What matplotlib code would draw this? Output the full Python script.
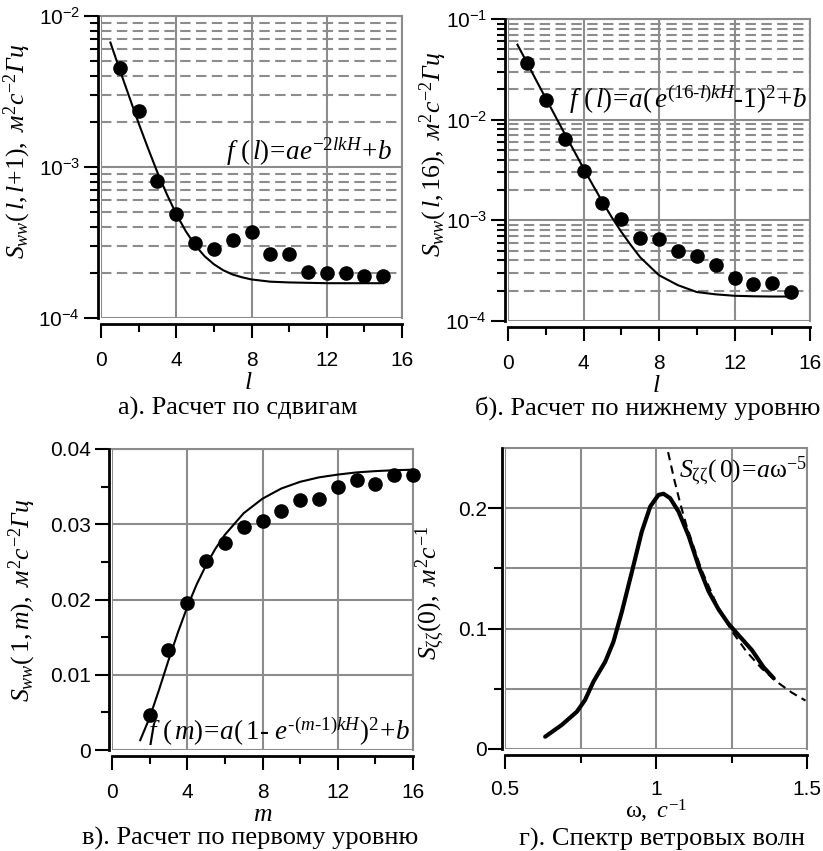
import math
import matplotlib
matplotlib.use("Agg")
import matplotlib.pyplot as plt
from matplotlib.ticker import FixedLocator, NullFormatter, FuncFormatter, LogLocator

plt.rcParams['font.family'] = ['Liberation Sans', 'DejaVu Sans']
plt.rcParams['mathtext.fontset'] = 'custom'
plt.rcParams['mathtext.rm'] = 'Liberation Serif'
plt.rcParams['mathtext.it'] = 'Liberation Serif:italic'
plt.rcParams['mathtext.bf'] = 'Liberation Serif:bold'
plt.rcParams['mathtext.sf'] = 'Liberation Sans'

# ---------------- data ----------------
# panel a
a_l = [1, 2, 3, 4, 5, 6, 7, 8, 9, 10, 11, 12, 13, 14, 15]
a_s = [4.5e-3, 2.36e-3, 8.1e-4, 4.88e-4, 3.12e-4, 2.88e-4, 3.3e-4, 3.69e-4,
       2.64e-4, 2.64e-4, 2.03e-4, 2.0e-4, 2.0e-4, 1.9e-4, 1.9e-4]
a_fit_l = [0.5, 1, 1.5, 2, 2.5, 3, 3.5, 4, 4.5, 5, 5.5, 6, 6.5, 7, 7.5, 8, 9, 10, 11, 12, 13, 14, 15]
a_fit_s = [6.67e-3, 4.39e-3, 2.92e-3, 1.95e-3, 1.33e-3, 9.2e-4, 6.6e-4, 4.88e-4,
           3.77e-4, 3.04e-4, 2.57e-4, 2.27e-4, 2.07e-4, 1.94e-4, 1.86e-4, 1.80e-4,
           1.74e-4, 1.72e-4, 1.71e-4, 1.70e-4, 1.70e-4, 1.70e-4, 1.70e-4]

# panel b
b_l = [1, 2, 3, 4, 5, 6, 7, 8, 9, 10, 11, 12, 13, 14, 15]
b_s = [0.0365, 0.0157, 6.4e-3, 3.09e-3, 1.50e-3, 1.03e-3, 6.65e-4, 6.5e-4,
       5.0e-4, 4.4e-4, 3.58e-4, 2.68e-4, 2.33e-4, 2.37e-4, 1.93e-4]
b_fit_l = [0.5, 1, 1.5, 2, 2.5, 3, 3.5, 4, 4.5, 5, 5.5, 6, 6.5, 7, 7.5, 8, 9, 10, 11, 12, 13, 14, 15]
b_fit_s = [0.0556, 0.037, 0.0245, 0.0163, 0.0109, 7.26e-3, 4.9e-3, 3.28e-3,
           2.23e-3, 1.53e-3, 1.07e-3, 7.7e-4, 5.7e-4, 4.3e-4, 3.5e-4, 2.85e-4,
           2.27e-4, 1.94e-4, 1.84e-4, 1.78e-4, 1.76e-4, 1.75e-4, 1.75e-4]

# panel c
c_m = [2, 3, 4, 5, 6, 7, 8, 9, 10, 11, 12, 13, 14, 15, 16]
c_s = [0.00466, 0.01326, 0.0195, 0.02514, 0.02745, 0.02958, 0.03042, 0.0317,
       0.0332, 0.0333, 0.0350, 0.0359, 0.0354, 0.0365, 0.0366]
c_fit_m = [1.5, 2, 2.5, 3, 3.5, 4, 4.5, 5, 5.5, 6, 7, 8, 9, 10, 11, 12, 13, 14, 15, 16]
c_fit_s = [0.0013, 0.0043, 0.0080, 0.0119, 0.0156, 0.0190, 0.0220, 0.02456, 0.02676,
           0.0286, 0.03147, 0.0334, 0.03475, 0.03564, 0.03623, 0.0366, 0.03689,
           0.03706, 0.03718, 0.03725]

# panel d
d_w = [0.633, 0.688, 0.738, 0.765, 0.793, 0.832, 0.859, 0.887, 0.920, 0.953, 0.981,
       1.008, 1.025, 1.047, 1.075, 1.108, 1.141, 1.174, 1.207, 1.240, 1.279, 1.318,
       1.356, 1.390]
d_s = [0.0102, 0.020, 0.031, 0.0407, 0.056, 0.0726, 0.089, 0.114, 0.147, 0.1806,
       0.2014, 0.211, 0.212, 0.2083, 0.197, 0.177, 0.152, 0.131, 0.116, 0.104,
       0.093, 0.082, 0.068, 0.0587]
d_fit_w = [1.04, 1.06, 1.08, 1.10, 1.15, 1.20, 1.25, 1.30, 1.35, 1.40, 1.45, 1.495]
d_fit_s = [0.2466, 0.2242, 0.2042, 0.1863, 0.1492, 0.1206, 0.0983, 0.0808, 0.0669,
           0.0558, 0.0468, 0.0402]

captions = ['а). Расчет по сдвигам', 'б). Расчет по нижнему уровню',
            'в). Расчет по первому уровню', 'г). Спектр ветровых волн']

# ---------------- style ----------------
W, H = 823, 851
GRID = '#8c8c8c'
TICK_FS = 15
LAB_FS = 18.5
fig = plt.figure(figsize=(W / 100, H / 100), dpi=100)


def add_ax(x0, y0, x1, y1):
    return fig.add_axes([x0 / W, 1 - y1 / H, (x1 - x0) / W, (y1 - y0) / H])


def style(ax):
    ax.set_axisbelow(True)
    ax.spines['left'].set_position(('outward', 2))
    ax.spines['bottom'].set_position(('outward', 4))
    for s in ['left', 'bottom']:
        ax.spines[s].set_linewidth(2.0)
        ax.spines[s].set_color('black')
    for s in ['top', 'right']:
        ax.spines[s].set_linewidth(1.5)
        ax.spines[s].set_color(GRID)
    ax.tick_params(which='major', length=10, width=1.5, labelsize=TICK_FS)
    ax.tick_params(which='minor', length=6, width=1.5)
    ax.tick_params(axis='x', which='both', pad=10)
    ax.tick_params(axis='y', which='both', pad=3)


def sup10(v, pos=None):
    e = int(round(math.log10(v)))
    return r'$\mathsf{10^{%d}}$' % e


def log_panel(ax, ymin, ymax):
    ax.set_yscale('log')
    ax.set_xlim(0, 16)
    ax.set_ylim(ymin, ymax)
    ax.xaxis.set_major_locator(FixedLocator([0, 4, 8, 12, 16]))
    ax.xaxis.set_minor_locator(FixedLocator([2, 6, 10, 14]))
    ax.yaxis.set_major_locator(LogLocator(base=10, numticks=10))
    ax.yaxis.set_minor_locator(LogLocator(base=10, subs=range(2, 10), numticks=20))
    ax.yaxis.set_major_formatter(FuncFormatter(sup10))
    ax.yaxis.set_minor_formatter(NullFormatter())
    ax.grid(True, which='major', color=GRID, lw=1.5, ls='-')
    ax.grid(True, which='minor', axis='y', color=GRID, lw=1.5, ls=(0, (5, 2.6)))
    style(ax)


# ---- panel a ----
ax = add_ax(101, 16, 402, 318)
log_panel(ax, 1e-4, 1e-2)
ax.plot(a_fit_l, a_fit_s, color='black', lw=1.5)
ax.plot(a_l, a_s, 'o', color='black', ms=9.5, zorder=5)
ax.set_xlabel(r'$l$', fontsize=LAB_FS)
ax.xaxis.set_label_coords(0.49, -0.172)
ax.set_ylabel(r'$S_{ww}(\,l,l\!+\!1),\ м^2с^{-2}Гц$', fontsize=LAB_FS)
ax.yaxis.set_label_coords(-0.226, 0.55)
ax.text(0.967, 0.523, r'$f\ (\,l)\!=\!ae^{-2lkH}\!+\!b$', transform=ax.transAxes,
        ha='right', va='baseline', fontsize=19.5)

# ---- panel b ----
ax = add_ax(508, 19, 810, 321)
log_panel(ax, 1e-4, 1e-1)
ax.plot(b_fit_l, b_fit_s, color='black', lw=1.5)
ax.plot(b_l, b_s, 'o', color='black', ms=9.5, zorder=5)
ax.set_xlabel(r'$l$', fontsize=LAB_FS)
ax.xaxis.set_label_coords(0.49, -0.172)
ax.set_ylabel(r'$S_{ww}(\,l,16),\ м^2с^{-2}Гц$', fontsize=LAB_FS)
ax.yaxis.set_label_coords(-0.195, 0.55)
ax.text(0.99, 0.705, r'$f\ (\,l)\!=\!a(\,e^{(16\text{-}l)kH}\text{-}1)^2\!+\!b$',
        transform=ax.transAxes, ha='right', va='baseline', fontsize=19.5)

# ---- panel c ----
ax = add_ax(112, 449, 413, 750)
ax.set_xlim(0, 16)
ax.set_ylim(0, 0.04)
ax.xaxis.set_major_locator(FixedLocator([0, 4, 8, 12, 16]))
ax.xaxis.set_minor_locator(FixedLocator([2, 6, 10, 14]))
ax.yaxis.set_major_locator(FixedLocator([0, 0.01, 0.02, 0.03, 0.04]))
ax.yaxis.set_minor_locator(FixedLocator([0.005, 0.015, 0.025, 0.035]))
ax.yaxis.set_major_formatter(FuncFormatter(lambda v, p: '0' if v == 0 else '%.2f' % v))
ax.grid(True, which='major', color=GRID, lw=1.5, ls='-')
style(ax)
ax.plot(c_fit_m, c_fit_s, color='black', lw=1.5)
ax.plot(c_m, c_s, 'o', color='black', ms=9.5, zorder=5, clip_on=False)
ax.set_xlabel(r'$m$', fontsize=LAB_FS)
ax.xaxis.set_label_coords(0.5, -0.172)
ax.set_ylabel(r'$S_{ww}(\,1,m),\ м^2с^{-2}Гц$', fontsize=LAB_FS)
ax.yaxis.set_label_coords(-0.246, 0.498)
ax.text(0.12, 0.033, r'$f\ (\,m)\!=\!a(\,1\text{- }e^{\text{-}(m\text{-}1)kH})^2\!+\!b$',
        transform=ax.transAxes, ha='left', va='baseline', fontsize=19.5)

# ---- panel d ----
ax = add_ax(505, 448, 807, 749)
ax.set_xlim(0.5, 1.5)
ax.set_ylim(0, 0.25)
ax.xaxis.set_major_locator(FixedLocator([0.5, 1.0, 1.5]))
ax.xaxis.set_minor_locator(FixedLocator([0.75, 1.25]))
ax.yaxis.set_major_locator(FixedLocator([0, 0.1, 0.2]))
ax.yaxis.set_minor_locator(FixedLocator([0.05, 0.15]))
ax.xaxis.set_major_formatter(FuncFormatter(lambda v, p: '%g' % v))
ax.yaxis.set_major_formatter(FuncFormatter(lambda v, p: '%g' % v))
ax.grid(True, which='both', color=GRID, lw=1.5, ls='-')
style(ax)
ax.tick_params(axis='y', which='both', pad=1)
ax.tick_params(axis='x', which='both', pad=8)
ax.plot(d_fit_w, d_fit_s, color='black', lw=1.5, ls=(0, (4, 2.6)))
ax.plot(d_w, d_s, color='black', lw=3.0, solid_capstyle='round')
ax.set_xlabel(r'$\mathrm{\omega},\ с^{-1}$', fontsize=17.5)
ax.xaxis.set_label_coords(0.5, -0.163)
ax.set_ylabel(r'$S_{\mathrm{\zeta\zeta}}(0),\ м^2с^{-1}$', fontsize=LAB_FS)
ax.yaxis.set_label_coords(-0.192, 0.518)
ax.text(1.0, 0.90, r'$S_{\mathrm{\zeta\zeta}}(\,0)\!=\!a\mathrm{\omega}^{-5}$',
        transform=ax.transAxes, ha='right', va='baseline', fontsize=18.5)

# ---- captions ----
cap_pos = [(118, 415, 'left'), (820, 415, 'right'), (82, 845, 'left'), (662, 846, 'center')]
for (cx, cy, ha), t in zip(cap_pos, captions):
    fig.text(cx / W, 1 - cy / H, t, ha=ha, va='baseline', fontsize=19,
             family=['Liberation Serif', 'DejaVu Serif'])

fig.savefig('out.png', dpi=100)
